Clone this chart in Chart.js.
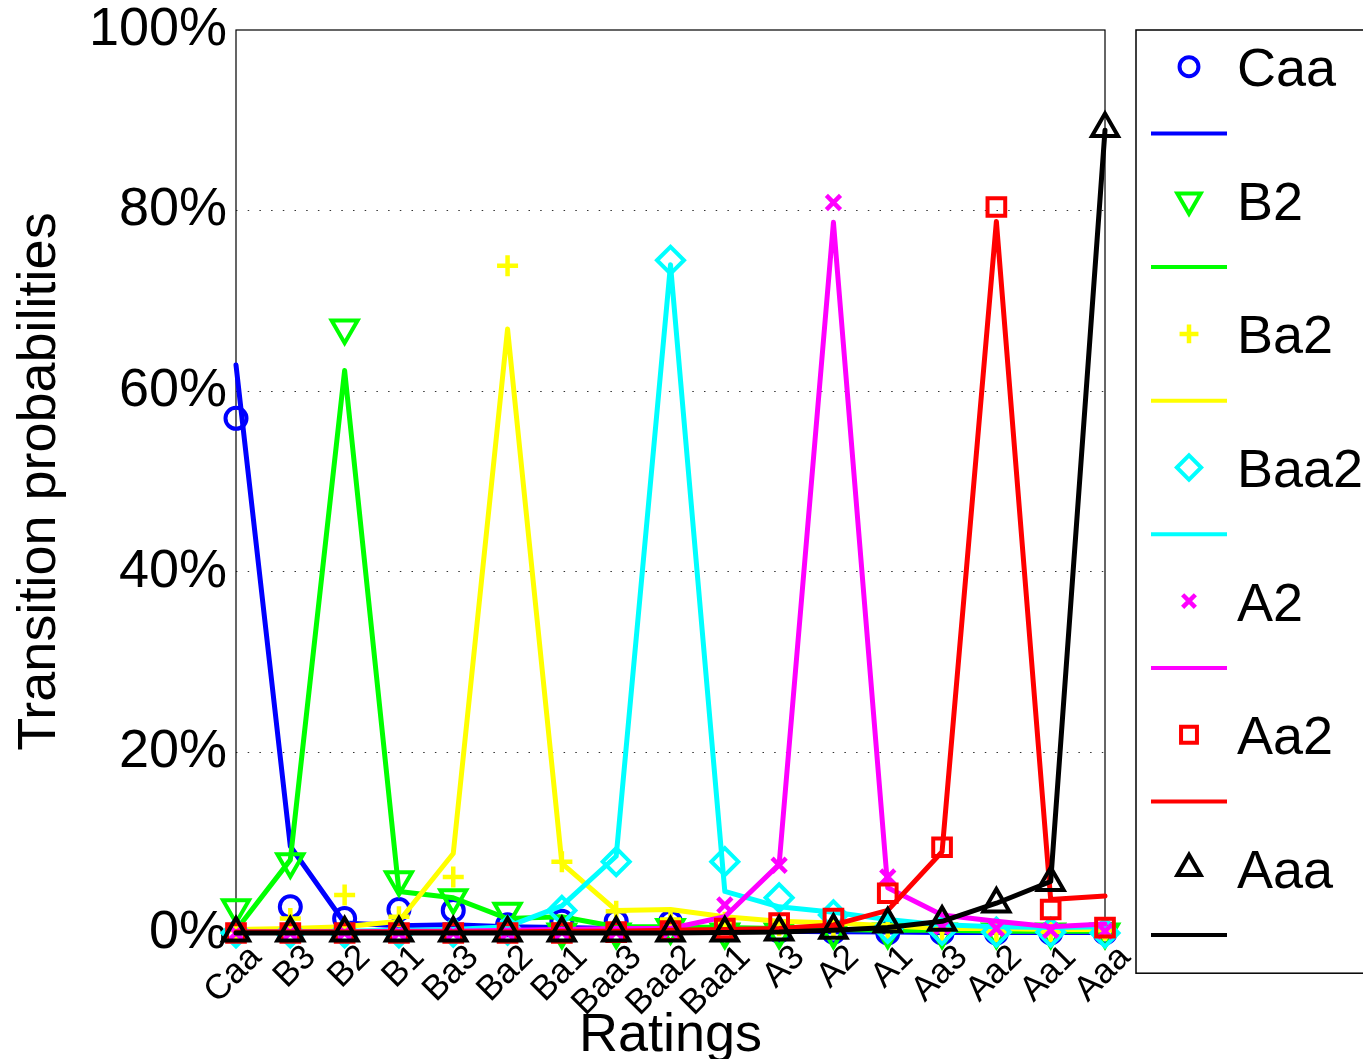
<!DOCTYPE html>
<html>
<head>
<meta charset="utf-8">
<title>Transition probabilities by rating</title>
<script src="https://cdn.jsdelivr.net/npm/chart.js@4.4.1/dist/chart.umd.min.js"></script>
<style>
  html, body { margin: 0; padding: 0; background: #ffffff; }
  #wrap { width: 1363px; height: 1059px; position: relative; overflow: hidden; }
</style>
</head>
<body>
<div id="wrap"><canvas id="chart" width="1363" height="1059"></canvas></div>
<script>
// Rating grades on the x axis
const ratings = ['Caa', 'B3', 'B2', 'B1', 'Ba3', 'Ba2', 'Ba1', 'Baa3', 'Baa2',
                 'Baa1', 'A3', 'A2', 'A1', 'Aa3', 'Aa2', 'Aa1', 'Aaa'];
const yTickValues = [0, 20, 40, 60, 80, 100];

// Series names (starting rating of each transition row)
const seriesNames = ['Caa', 'B2', 'Ba2', 'Baa2', 'A2', 'Aa2', 'Aaa'];

// Observed transition probabilities (%), drawn as markers
const obsCaa  = [57.0, 2.9, 1.6, 2.6, 2.5, 0.9, 1.3, 1.3, 1.2, 0.4, 0.2, 0.1, 0.0, 0.0, 0.0, 0.0, 0.0];
const obsB2   = [2.8, 7.9, 67.0, 5.9, 3.9, 2.4, 0.1, 0.1, 0.6, 0.1, 0.1, 0.1, 0.1, 0.1, 0.1, 0.1, 0.1];
const obsBa2  = [0.3, 1.6, 4.2, 1.8, 6.2, 73.9, 7.9, 2.4, 1.5, 1.2, 0.8, 0.5, 0.3, 0.2, 0.1, 0.1, 0.3];
const obsBaa2 = [0.0, 0.0, 0.0, 0.0, 0.1, 0.3, 2.5, 7.9, 74.5, 7.9, 3.9, 2.0, 0.5, 0.3, 0.1, 0.1, 0.0];
const obsA2   = [0.0, 0.0, 0.0, 0.0, 0.0, 0.0, 0.1, 0.1, 0.3, 3.1, 7.5, 80.9, 6.2, 0.7, 0.5, 0.3, 0.2];
const obsAa2  = [0.0, 0.0, 0.0, 0.0, 0.0, 0.0, 0.0, 0.1, 0.2, 0.5, 1.1, 1.6, 4.4, 9.5, 80.4, 2.6, 0.6];
const obsAaa  = [0.0, 0.0, 0.0, 0.0, 0.0, 0.0, 0.0, 0.0, 0.0, 0.0, 0.1, 0.3, 1.0, 1.2, 3.2, 5.6, 89.1];

// Fitted transition probabilities (%), drawn as lines
const fitCaa  = [62.9, 9.6, 1.1, 0.8, 0.9, 0.7, 0.6, 0.5, 0.4, 0.3, 0.2, 0.15, 0.1, 0.05, 0.05, 0.05, 0.05];
const fitB2   = [0.3, 8.1, 62.3, 4.6, 3.9, 1.6, 1.8, 0.7, 0.7, 0.6, 0.5, 0.4, 0.3, 0.3, 0.2, 0.2, 0.2];
const fitBa2  = [0.4, 0.5, 0.7, 1.3, 8.8, 66.9, 7.7, 2.5, 2.6, 1.8, 1.3, 1.1, 0.8, 0.5, 0.5, 0.4, 0.4];
const fitBaa2 = [0.1, 0.1, 0.2, 0.3, 0.4, 0.7, 3.0, 8.5, 74.0, 4.6, 2.9, 2.3, 1.5, 0.9, 0.7, 0.6, 0.7];
const fitA2   = [0.1, 0.1, 0.1, 0.2, 0.2, 0.3, 0.4, 0.5, 0.5, 1.8, 7.6, 78.7, 5.0, 2.0, 1.3, 0.7, 1.0];
const fitAa2  = [0.1, 0.1, 0.1, 0.1, 0.1, 0.1, 0.2, 0.2, 0.3, 0.4, 0.5, 0.9, 2.5, 9.0, 78.8, 3.7, 4.1];
const fitAaa  = [0.0, 0.0, 0.0, 0.0, 0.0, 0.0, 0.0, 0.0, 0.0, 0.05, 0.1, 0.3, 0.6, 1.3, 3.3, 5.7, 88.9];

const observed = [obsCaa, obsB2, obsBa2, obsBaa2, obsA2, obsAa2, obsAaa];
const fitted   = [fitCaa, fitB2, fitBa2, fitBaa2, fitA2, fitAa2, fitAaa];

// Styling per series
const colors = ['#0000ff', '#00ff00', '#ffff00', '#00ffff', '#ff00ff', '#ff0000', '#000000'];
const markerStyles = [
  { style: 'circle',   radius: 10.5, rotation: 0,   width: 4 },
  { style: 'triangle', radius: 15,   rotation: 180, width: 4 },
  { style: 'cross',    radius: 10.5, rotation: 0,   width: 4.5 },
  { style: 'rectRot',  radius: 13.5, rotation: 0,   width: 4 },
  { style: 'crossRot', radius: 10,   rotation: 0,   width: 4.5 },
  { style: 'rect',     radius: 12.5, rotation: 0,   width: 4 },
  { style: 'triangle', radius: 15,   rotation: 0,   width: 4 }
];

const FONT = "'Liberation Sans', Arial, Helvetica, sans-serif";

// Each series: markers (observed) then line (fitted); later datasets sit on top
const datasets = [];
seriesNames.forEach((name, i) => {
  const m = markerStyles[i];
  datasets.push({
    label: name,
    data: observed[i],
    showLine: false,
    borderColor: colors[i],
    backgroundColor: 'rgba(0,0,0,0)',
    pointStyle: m.style,
    pointRadius: m.radius,
    pointRotation: m.rotation,
    pointBorderWidth: m.width,
    pointBorderColor: colors[i],
    pointBackgroundColor: 'rgba(0,0,0,0)',
    pointHoverRadius: m.radius,
    clip: false,
    isMarker: true
  });
  datasets.push({
    label: '',
    data: fitted[i],
    showLine: true,
    borderColor: colors[i],
    borderWidth: 5,
    borderJoinStyle: 'round',
    borderCapStyle: 'round',
    pointRadius: 0,
    pointHoverRadius: 0,
    tension: 0,
    fill: false,
    clip: false,
    isMarker: false
  });
});
datasets.forEach((d, k) => { d.order = datasets.length - k; });

// Frame around the plotting area
const plotFrame = {
  id: 'plotFrame',
  beforeDatasetsDraw(chart) {
    const { ctx, chartArea: a } = chart;
    ctx.save();
    ctx.strokeStyle = '#000';
    ctx.lineWidth = 1.2;
    ctx.strokeRect(a.left, a.top, a.right - a.left, a.bottom - a.top);
    ctx.restore();
  }
};

// Boxed legend on the right: one row for each marker set and each line
const sideLegend = {
  id: 'sideLegend',
  afterDraw(chart) {
    const { ctx, chartArea: a } = chart;
    const sets = chart.data.datasets;
    const x0 = a.right + 31;
    const rowH = 66.8;
    const firstRow = a.top + 36.7;
    ctx.save();
    ctx.strokeStyle = '#000';
    ctx.lineWidth = 1.5;
    ctx.strokeRect(x0, a.top, chart.width - x0 + 20, rowH * sets.length + 8);
    sets.forEach((ds, k) => {
      const y = firstRow + k * rowH;
      if (ds.isMarker) {
        ctx.strokeStyle = ds.pointBorderColor;
        ctx.fillStyle = 'rgba(0,0,0,0)';
        ctx.lineWidth = ds.pointBorderWidth;
        Chart.helpers.drawPoint(ctx, {
          pointStyle: ds.pointStyle,
          radius: ds.pointRadius * 0.9,
          rotation: ds.pointRotation,
          borderWidth: ds.pointBorderWidth
        }, x0 + 53, y);
        ctx.fillStyle = '#000';
        ctx.font = '54px ' + FONT;
        ctx.textAlign = 'left';
        ctx.textBaseline = 'alphabetic';
        ctx.fillText(ds.label, x0 + 101, y + 19.5);
      } else {
        ctx.strokeStyle = ds.borderColor;
        ctx.lineWidth = 4;
        ctx.beginPath();
        ctx.moveTo(x0 + 15, y);
        ctx.lineTo(x0 + 91, y);
        ctx.stroke();
      }
    });
    ctx.restore();
  }
};

new Chart(document.getElementById('chart'), {
  type: 'line',
  data: { labels: ratings, datasets: datasets },
  options: {
    responsive: false,
    animation: false,
    events: [],
    layout: { padding: { top: 30, right: 258, left: 0, bottom: 0 } },
    plugins: { legend: { display: false }, tooltip: { enabled: false }, title: { display: false } },
    scales: {
      x: {
        type: 'category',
        offset: false,
        grid: { display: false, drawTicks: false },
        border: { display: false },
        ticks: {
          color: '#000',
          autoSkip: false,
          minRotation: 45,
          maxRotation: 45,
          padding: 4,
          labelOffset: 20,
          font: { family: FONT, size: 35 }
        },
        title: {
          display: true,
          text: 'Ratings',
          color: '#000',
          font: { family: FONT, size: 54, lineHeight: 0.85 },
          padding: { top: 0, bottom: 0 }
        },
        afterFit(scale) {
          scale.height = 126;
          scale.paddingLeft = 0;
          scale.paddingRight = 0;
        }
      },
      y: {
        min: 0,
        max: 100,
        afterBuildTicks(scale) { scale.ticks = yTickValues.map(v => ({ value: v })); },
        grid: {
          drawTicks: false,
          lineWidth: 1,
          color: ctx => (ctx.tick && (ctx.tick.value === 0 || ctx.tick.value === 100)) ? 'rgba(0,0,0,0)' : '#333'
        },
        border: { display: false, dash: [1.5, 10.2] },
        ticks: {
          color: '#000',
          padding: 9,
          font: { family: FONT, size: 54 },
          callback: v => v + '%'
        },
        title: {
          display: true,
          text: 'Transition probabilities',
          color: '#000',
          font: { family: FONT, size: 54, lineHeight: 1.2 },
          padding: { top: 8, bottom: 0 }
        },
        afterFit(scale) {
          scale.width = 236;
          scale.paddingTop = 0;
          scale.paddingBottom = 0;
        }
      }
    }
  },
  plugins: [plotFrame, sideLegend]
});
</script>
</body>
</html>
